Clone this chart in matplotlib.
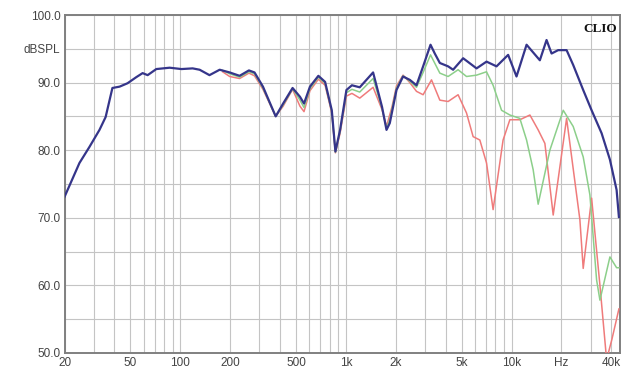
import matplotlib
matplotlib.use('Agg')
import matplotlib.pyplot as plt

# on-axis response (blue)
freq_blue = [20, 24.6, 28.3, 32.5, 35.4, 38.9, 43, 48, 54.2, 59.2, 63.5, 71.6, 86.2, 101.6,
             118.7, 130.8, 150, 172.8, 198.6, 228, 259.5, 280.6, 315.5, 376.6, 417.7, 476.3,
             527.8, 558.3, 606.6, 681.7, 748.5, 821.5, 864, 922, 1007, 1087, 1212, 1459,
             1652, 1758, 1840, 2020, 2213, 2431, 2668, 2925, 3242, 3440, 3690, 4141, 4439,
             5103, 6148, 7064, 8118, 9539, 10717, 12326, 14825, 16274, 17451, 19127, 21503,
             23575, 27089, 30447, 34993, 39272, 43104, 44500]
db_blue = [73.1, 78.1, 80.5, 83.0, 84.9, 89.2, 89.4, 89.9, 90.8, 91.4, 91.1, 92.0, 92.2, 92.0,
           92.1, 91.9, 91.1, 91.9, 91.5, 91.0, 91.8, 91.5, 89.4, 85.0, 86.9, 89.2,
           87.9, 86.9, 89.4, 91.0, 90.1, 85.9, 79.8, 83.0, 88.9, 89.6, 89.3, 91.5,
           86.4, 83.0, 84.0, 88.9, 90.9, 90.4, 89.6, 92.4, 95.6, 94.3, 92.9, 92.4, 91.9,
           93.6, 92.1, 93.1, 92.4, 94.1, 90.9, 95.6, 93.3, 96.3, 94.3, 94.8, 94.8,
           92.6, 88.9, 85.9, 82.5, 78.6, 74.1, 70.1]

# off-axis (green)
freq_green = [180, 198.6, 228, 259.5, 280.6, 315.5, 376.6, 417.7, 476.3, 527.8, 558.3, 606.6,
              681.7, 748.5, 821.5, 864, 922, 1007, 1087, 1212, 1459, 1652, 1758, 1840, 2020,
              2213, 2431, 2668, 2925, 3242, 3690, 4141, 4757, 5348, 6148, 7064, 7740, 8704,
              9771, 11224, 12326, 13511, 14481, 17045, 20520, 23575, 27089, 29720, 32630,
              34180, 39272, 43104, 44500]
db_green = [91.8, 91.3, 90.8, 91.6, 91.3, 89.2, 85.0, 86.7, 89.1, 87.4, 86.3, 89.1,
            90.8, 89.9, 85.7, 79.7, 82.8, 88.5, 89.0, 88.6, 90.6, 86.2, 83.2, 84.5, 89.2,
            91.0, 90.2, 89.3, 91.5, 94.1, 91.4, 90.9, 91.9, 90.9, 91.1, 91.6, 89.6, 85.9,
            85.2, 84.7, 81.5, 77.1, 72.0, 80.0, 85.9, 83.5, 79.0, 73.4, 60.8,
            57.8, 64.2, 62.6, 62.6]

# off-axis (red)
freq_red = [180, 198.6, 228, 259.5, 280.6, 315.5, 376.6, 417.7, 476.3, 527.8, 558.3, 606.6,
            681.7, 748.5, 821.5, 864, 922, 1007, 1087, 1212, 1459, 1652, 1758, 1901, 2020,
            2213, 2431, 2668, 2925, 3287, 3690, 4141, 4757, 5348, 5862, 6436, 7064, 7740,
            8892, 9771, 11224, 12910, 14481, 15900, 17850, 21503, 25870, 27089, 30447,
            34180, 37500, 40370, 44500]
db_red = [91.6, 90.9, 90.6, 91.4, 91.0, 89.0, 85.0, 86.5, 89.0, 86.5, 85.7, 88.8,
          90.5, 89.6, 85.5, 79.6, 82.5, 88.0, 88.4, 87.7, 89.3, 86.0, 83.5, 86.5, 89.5,
          91.1, 90.0, 88.7, 88.2, 90.4, 87.4, 87.2, 88.2, 85.5, 82.0, 81.5, 78.1, 71.2,
          81.5, 84.5, 84.5, 85.2, 83.0, 81.0, 70.4, 84.7, 69.7, 62.5, 72.9,
          60.0, 49.0, 52.0, 56.5]

grid_freqs = [20, 30, 40, 50, 60, 70, 80, 90, 100, 200, 300, 400, 500, 600, 700, 800, 900,
              1000, 2000, 3000, 4000, 5000, 6000, 7000, 8000, 9000, 10000, 20000, 30000, 40000]
x_labels = {20: '20', 50: '50', 100: '100', 200: '200', 500: '500', 1000: '1k', 2000: '2k',
            5000: '5k', 10000: '10k', 20000: 'Hz', 40000: '40k'}
y_ticks = [50, 55, 60, 65, 70, 75, 80, 85, 90, 95, 100]
y_labels = ['50.0', '', '60.0', '', '70.0', '', '80.0', '', '90.0', 'dBSPL', '100.0']

plt.rcParams['font.family'] = ['Liberation Sans', 'DejaVu Sans']

fig = plt.figure(figsize=(6.33, 3.75), dpi=100)
ax = fig.add_axes([0.102, 0.059, 0.877, 0.901])

ax.plot(freq_red, db_red, color='#ef7b7b', lw=1.1, zorder=3)
ax.plot(freq_green, db_green, color='#8ccf8a', lw=1.1, zorder=4)
ax.plot(freq_blue, db_blue, color='#35358a', lw=1.6, zorder=5)

ax.set_xscale('log')
ax.set_xlim(20, 45000)
ax.set_ylim(50, 100)
ax.set_xticks(grid_freqs)
ax.set_xticklabels([x_labels.get(f, '') for f in grid_freqs])
ax.xaxis.set_minor_locator(matplotlib.ticker.NullLocator())
ax.set_yticks(y_ticks)
ax.set_yticklabels(y_labels)
ax.tick_params(length=0, labelsize=8.5, labelcolor='#444444', pad=3)
ax.grid(True, color='#c4c4c4', lw=0.8)
ax.set_axisbelow(True)
for s in ax.spines.values():
    s.set_color('#808080')
    s.set_linewidth(1.4)

ax.text(0.995, 0.975, 'CLIO', transform=ax.transAxes, ha='right', va='top',
        fontsize=9.5, fontweight='bold', family='Liberation Serif', color='#111111')

plt.savefig('out.png', dpi=100)
plt.close()
